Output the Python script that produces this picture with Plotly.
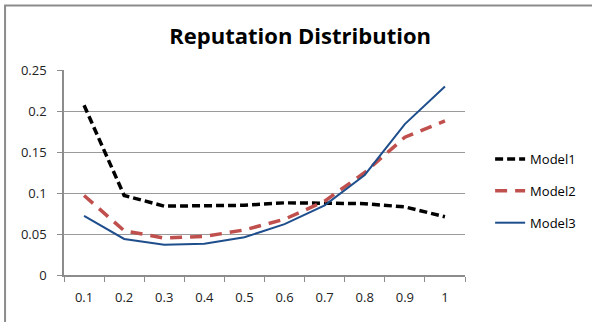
import plotly.graph_objects as go

categories = ["0.1", "0.2", "0.3", "0.4", "0.5", "0.6", "0.7", "0.8", "0.9", "1"]
model1 = [0.207, 0.097, 0.084, 0.084, 0.085, 0.088, 0.088, 0.087, 0.083, 0.071]
model2 = [0.097, 0.054, 0.045, 0.047, 0.055, 0.068, 0.090, 0.125, 0.168, 0.188]
model3 = [0.072, 0.044, 0.037, 0.038, 0.046, 0.062, 0.085, 0.122, 0.184, 0.230]
y_ticks = [0, 0.05, 0.1, 0.15, 0.2, 0.25]
y_labels = ["0", "0.05", "0.1", "0.15", "0.2", "0.25"]

font = "Open Sans, Liberation Sans, sans-serif"

fig = go.Figure()
fig.add_trace(go.Scatter(x=categories, y=model1, name="Model1", mode="lines",
                         legendgroup="g1",
                         line=dict(color="#000000", width=3.5, dash="8px,4px")))
fig.add_trace(go.Scatter(x=categories, y=model2, name="Model2", mode="lines",
                         legendgroup="g2",
                         line=dict(color="#C0504D", width=3.5, dash="12px,8px")))
fig.add_trace(go.Scatter(x=categories, y=model3, name="Model3", mode="lines",
                         legendgroup="g3",
                         line=dict(color="#1F4E8C", width=2)))

# outer chart frame, open at right and bottom
fig.add_shape(type="rect", xref="paper", yref="paper",
              x0=-0.147, x1=2.0, y0=-1.0, y1=1.315,
              line=dict(color="#8c8c8c", width=2), fillcolor="rgba(0,0,0,0)",
              layer="below")

fig.update_layout(
    width=592, height=322,
    margin=dict(l=64, r=126, t=70, b=47),
    paper_bgcolor="white", plot_bgcolor="white",
    title=dict(text="<b>Reputation Distribution</b>", x=0.507, xanchor="center",
               y=0.888, yanchor="middle",
               font=dict(family=font, size=22, color="#000000")),
    font=dict(family=font, size=13, color="#222222"),
    showlegend=True,
    legend=dict(x=1.06, xanchor="left", y=0.41, yanchor="middle",
                traceorder="grouped", tracegroupgap=12,
                font=dict(family=font, size=13, color="#000000"),
                bgcolor="rgba(0,0,0,0)"),
    xaxis=dict(type="category", range=[-0.5, 9.5], showgrid=False, showline=True,
               linecolor="#8c8c8c", linewidth=1.5,
               ticks="outside", tickson="boundaries", ticklen=5,
               tickcolor="#8c8c8c", tickfont=dict(size=13),
               ticklabelstandoff=10, fixedrange=True),
    yaxis=dict(range=[0, 0.25], tickvals=y_ticks, ticktext=y_labels,
               showgrid=True, gridcolor="#9a9a9a", gridwidth=1,
               showline=True, linecolor="#8c8c8c", linewidth=1.5,
               ticks="outside", ticklen=5, tickcolor="#8c8c8c",
               ticklabelstandoff=8,
               zeroline=False, tickfont=dict(size=13), fixedrange=True),
)

fig.write_html("out.html")
